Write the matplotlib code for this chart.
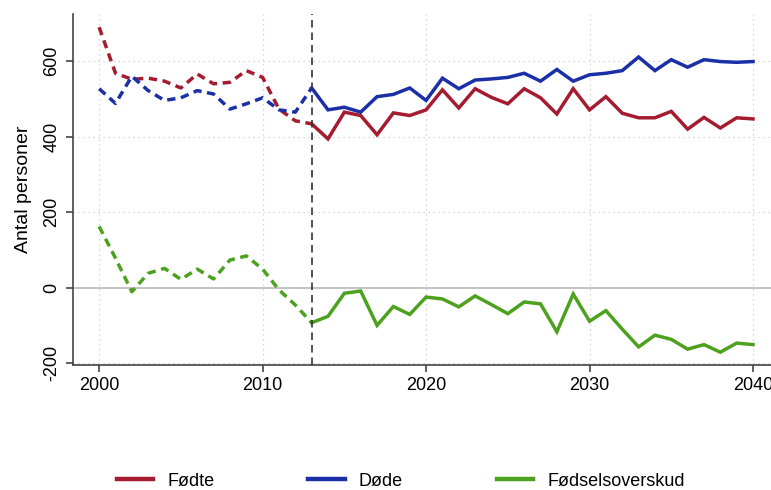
import numpy as np
import matplotlib
matplotlib.use("Agg")
import matplotlib.pyplot as plt
from matplotlib.lines import Line2D

plt.rcParams['font.family'] = ['Liberation Sans', 'DejaVu Sans']

years = list(range(2000, 2041))
fodte = [690, 568, 552, 555, 547, 529, 566, 540, 544, 575,
         557, 473, 442, 434, 394, 465, 456, 405, 463, 456,
         471, 524, 476, 527, 504, 487, 527, 503, 460, 527,
         471, 506, 462, 450, 450, 467, 420, 451, 423, 450, 447]
dode = [527, 488, 560, 522, 496, 503, 522, 513, 473, 487,
        503, 471, 465, 529, 471, 478, 465, 506, 512, 529,
        496, 555, 527, 550, 553, 557, 568, 547, 578, 547,
        564, 568, 575, 611, 575, 604, 584, 604, 599, 597, 599]
overskud = [162, 78, -11, 38, 51, 22, 49, 23, 73, 84,
            49, -6, -46, -93, -76, -15, -9, -100, -50, -71,
            -25, -30, -51, -22, -45, -69, -38, -43, -117, -17,
            -89, -61, -110, -157, -126, -137, -163, -151, -171, -147, -151]
labels = ["Fødte", "Døde", "Fødselsoverskud"]
colors = ["#a51c30", "#1b2fa6", "#4ca21f"]
split_year = 2013

fig = plt.figure(figsize=(7.71, 4.9), dpi=100)
ax = fig.add_axes([73 / 771, 1 - 365 / 490, 1 - 73 / 771, (365 - 14) / 490])

yrs = np.array(years)
k = years.index(split_year)
for vals, c in zip([fodte, dode, overskud], colors):
    v = np.array(vals)
    # registrerede tal stiplet, fremskrivning fuldt optrukket
    ax.plot(yrs[:k + 1], v[:k + 1], color=c, lw=2.5, linestyle=(0, (2.4, 1.6)),
            dash_capstyle='butt', zorder=3)
    ax.plot(yrs[k:], v[k:], color=c, lw=2.5, solid_joinstyle='miter', zorder=3)

ax.axhline(0, color="#c4c4c4", lw=1.5, zorder=1)
ax.axvline(split_year, color="#333333", lw=1.2, linestyle=(0, (4.5, 3)), zorder=4)

ax.set_xlim(1998.4, 2041.1)
ax.set_ylim(-205, 725)
ax.set_xticks([2000, 2010, 2020, 2030, 2040])
ax.set_yticks([-200, 0, 200, 400, 600])
ax.set_yticklabels(["-200", "0", "200", "400", "600"], rotation=90, va='center')
for t in [2000, 2010, 2020, 2030, 2040]:
    ax.axvline(t, color="#cccccc", lw=0.9, linestyle=(0, (1, 3)), zorder=0)
for t in [-200, 200, 400, 600]:
    ax.axhline(t, color="#cccccc", lw=0.9, linestyle=(0, (1, 3)), zorder=0)

for s in ['top', 'right']:
    ax.spines[s].set_visible(False)
for s in ['left', 'bottom']:
    ax.spines[s].set_color("#444444")
    ax.spines[s].set_linewidth(1.2)
ax.tick_params(colors="#444444", labelcolor="black", length=5, width=1.2, labelsize=13)
ax.tick_params(axis='y', pad=4)
ax.set_ylabel("Antal personer", fontsize=14, labelpad=8)

handles = [Line2D([0], [0], color=c, lw=3.2) for c in colors]
fig.legend(handles, labels, loc='center', bbox_to_anchor=(0.52, 1 - 481 / 490), ncol=3,
           frameon=False, fontsize=13, handlelength=2.0, handletextpad=0.8,
           columnspacing=5.2)

fig.savefig("out.png", dpi=100)
